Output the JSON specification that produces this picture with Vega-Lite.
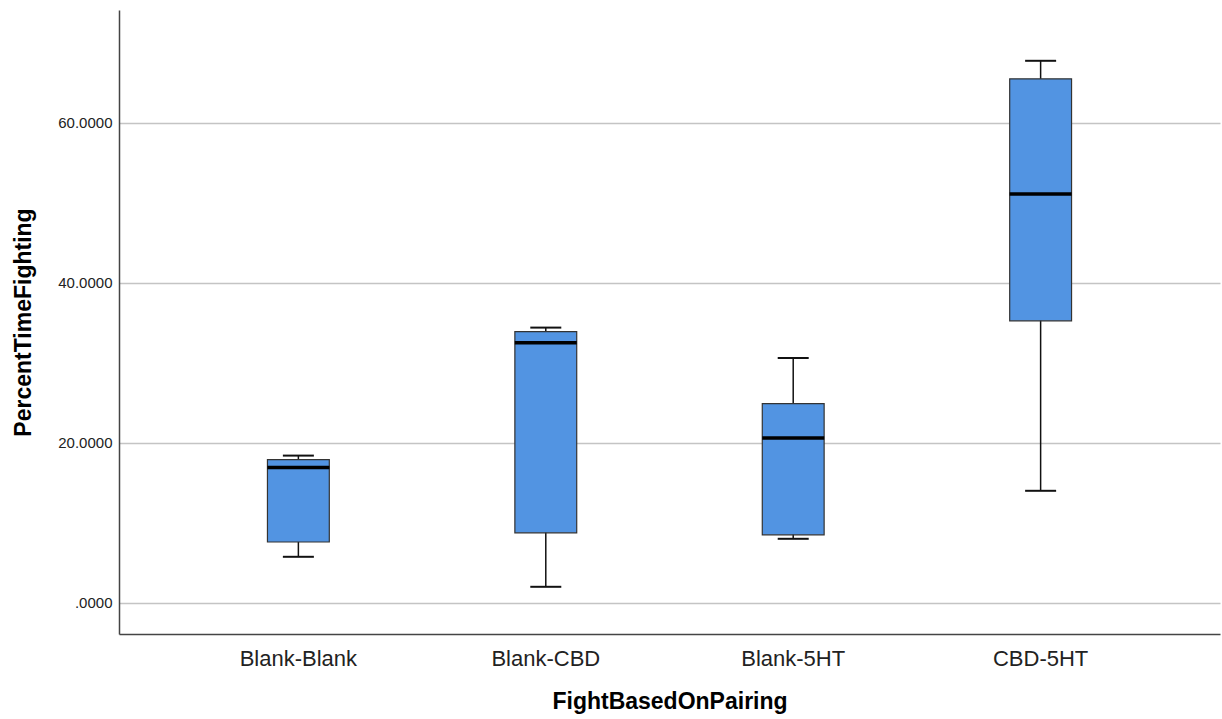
{
  "$schema": "https://vega.github.io/schema/vega-lite/v6.json",
  "width": 1101,
  "height": 624,
  "autosize": {"type": "none"},
  "padding": {"left": 119, "top": 10, "right": 2, "bottom": 85},
  "background": "white",
  "config": {"view": {"stroke": null}},
  "data": {
    "values": [
      {"pair": "Blank-Blank", "lower": 5.75, "q1": 7.6, "median": 16.9, "q3": 17.9, "upper": 18.4},
      {"pair": "Blank-CBD", "lower": 2.0, "q1": 8.75, "median": 32.5, "q3": 33.9, "upper": 34.4},
      {"pair": "Blank-5HT", "lower": 8.0, "q1": 8.5, "median": 20.6, "q3": 24.9, "upper": 30.6},
      {"pair": "CBD-5HT", "lower": 14.0, "q1": 35.25, "median": 51.1, "q3": 65.5, "upper": 67.75}
    ]
  },
  "encoding": {
    "x": {
      "field": "pair",
      "type": "nominal",
      "sort": ["Blank-Blank", "Blank-CBD", "Blank-5HT", "CBD-5HT"],
      "scale": {"paddingInner": 0.75, "paddingOuter": 0.6},
      "axis": {
        "title": "FightBasedOnPairing",
        "titleFont": "Arial, Liberation Sans",
        "titleFontSize": 23,
        "titleFontWeight": "bold",
        "titleColor": "#000000",
        "titlePadding": 21,
        "labelFont": "Arial, Liberation Sans",
        "labelFontSize": 22,
        "labelColor": "#222222",
        "labelAngle": 0,
        "labelPadding": 14,
        "ticks": false,
        "domainColor": "#444444",
        "domainWidth": 1.5,
        "grid": false
      }
    }
  },
  "layer": [
    {
      "mark": {"type": "rule", "color": "#111111", "strokeWidth": 1.5},
      "encoding": {
        "y": {
          "field": "lower",
          "type": "quantitative",
          "scale": {"domain": [-3.9, 74.1], "nice": false, "zero": false},
          "axis": {
            "title": "PercentTimeFighting",
            "titleFont": "Arial, Liberation Sans",
            "titleFontSize": 23,
            "titleFontWeight": "bold",
            "titleColor": "#000000",
            "titlePadding": 22,
            "labelFont": "Arial, Liberation Sans",
            "labelFontSize": 15,
            "labelColor": "#222222",
            "labelPadding": 7,
            "values": [0, 20, 40, 60],
            "labelExpr": "datum.value == 0 ? '.0000' : format(datum.value, '.4f')",
            "ticks": false,
            "grid": true,
            "gridColor": "#c4c4c4",
            "gridWidth": 1.5,
            "domainColor": "#444444",
            "domainWidth": 1.5
          }
        },
        "y2": {"field": "upper"}
      }
    },
    {
      "mark": {"type": "bar", "width": {"band": 1}, "color": "#5294E2", "opacity": 1, "stroke": "#333333", "strokeWidth": 1.2},
      "encoding": {
        "y": {"field": "q1", "type": "quantitative"},
        "y2": {"field": "q3"}
      }
    },
    {
      "mark": {"type": "tick", "color": "#000000", "opacity": 1, "thickness": 3.5, "size": 62},
      "encoding": {"y": {"field": "median", "type": "quantitative"}}
    },
    {
      "mark": {"type": "tick", "color": "#111111", "opacity": 1, "thickness": 2, "size": 31},
      "encoding": {"y": {"field": "upper", "type": "quantitative"}}
    },
    {
      "mark": {"type": "tick", "color": "#111111", "opacity": 1, "thickness": 2, "size": 31},
      "encoding": {"y": {"field": "lower", "type": "quantitative"}}
    }
  ]
}
